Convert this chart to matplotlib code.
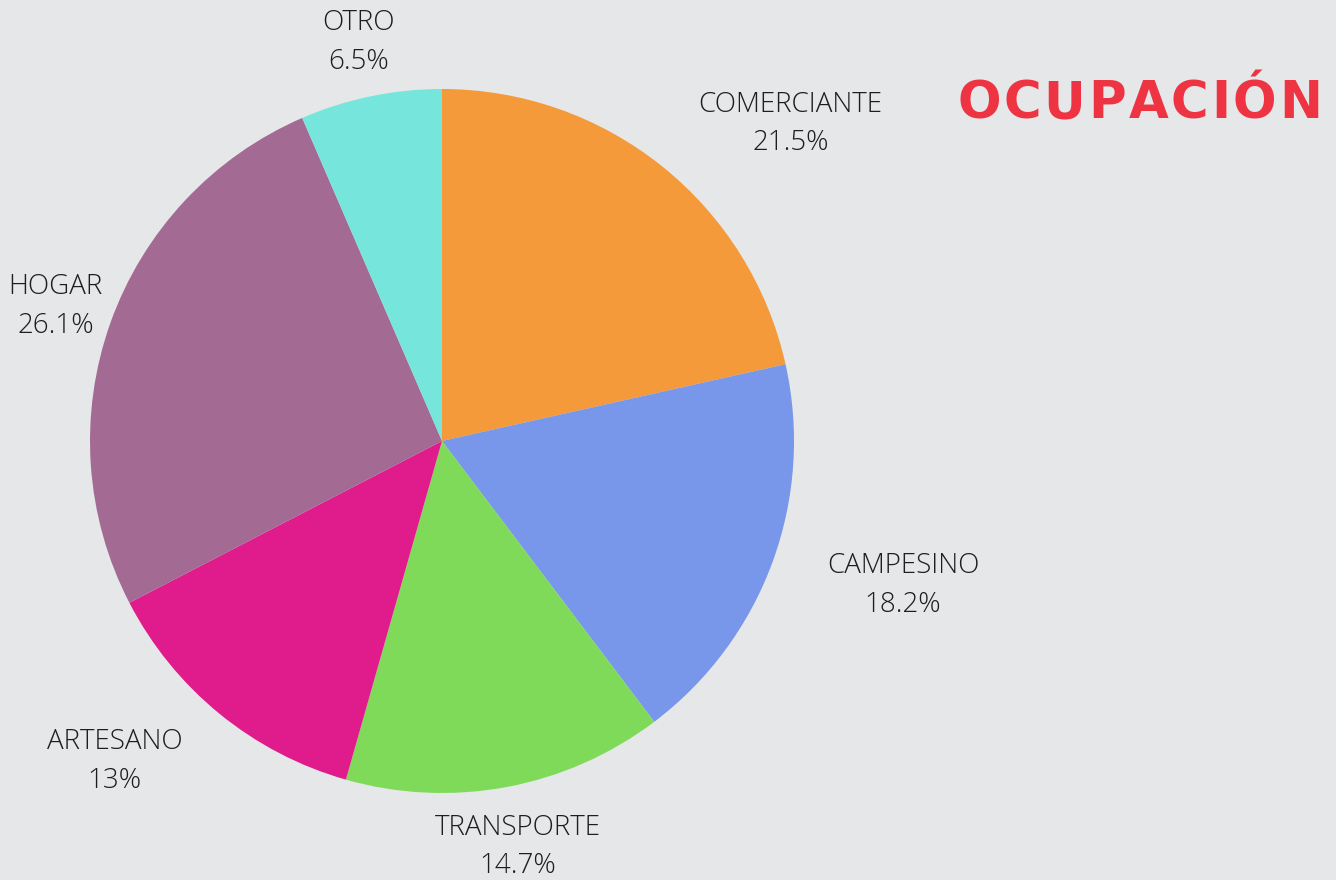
import matplotlib
matplotlib.use("Agg")
import matplotlib.pyplot as plt
import numpy as np

categories = ["COMERCIANTE", "CAMPESINO", "TRANSPORTE", "ARTESANO", "HOGAR", "OTRO"]
values = [21.5, 18.2, 14.7, 13, 26.1, 6.5]
pct_labels = ["21.5%", "18.2%", "14.7%", "13%", "26.1%", "6.5%"]
colors = ["#f59a3a", "#7896ea", "#80da5a", "#e01b8c", "#a36b94", "#76e6dc"]
title = "OCUPACIÓN"

W, H = 1336, 880
fig = plt.figure(figsize=(W / 100, H / 100), dpi=100)
bg = "#e6e7e8"
fig.patch.set_facecolor(bg)
ax = fig.add_axes([0, 0, 1, 1])
ax.set_facecolor(bg)

cx, cy, R = 442, H - 441, 352
wedges, _ = ax.pie(values, colors=colors, startangle=90, counterclock=False,
                   radius=R, center=(cx, cy), frame=True,
                   wedgeprops=dict(linewidth=0))
ax.set_xlim(0, W)
ax.set_ylim(0, H)
ax.set_aspect("equal")
ax.axis("off")

aligns = ["left", "left", "center", "right", "center", "center"]
dist = 410
for w, cat, pl, ha in zip(wedges, categories, pct_labels, aligns):
    ang = np.deg2rad((w.theta1 + w.theta2) / 2)
    x = cx + dist * np.cos(ang)
    y = cy + dist * np.sin(ang) - 3
    ax.text(x, y, f"{cat}\n{pl}", ha=ha, va="center", multialignment="center",
            fontsize=20, fontfamily="Open Sans", fontweight="light",
            color="#1e1e1e", linespacing=1.52)

# Title with letter spacing, fitted between x=957 and x=1322 px
fig.canvas.draw()
renderer = fig.canvas.get_renderer()
tkw = dict(fontsize=37, fontfamily="DejaVu Sans", fontweight="bold", color="#ee3442",
           va="baseline", ha="left")
chars = []
widths = []
for ch in title:
    t = ax.text(0, 0, ch, **tkw)
    bb = t.get_window_extent(renderer)
    widths.append(bb.width)
    chars.append(t)
left, right = 957, 1322
gap = (right - left - sum(widths)) / (len(title) - 1)
x = left
baseline = H - 118
for t, wd in zip(chars, widths):
    t.set_position((x, baseline))
    x += wd + gap

fig.savefig("out.png", dpi=100, facecolor=bg)
